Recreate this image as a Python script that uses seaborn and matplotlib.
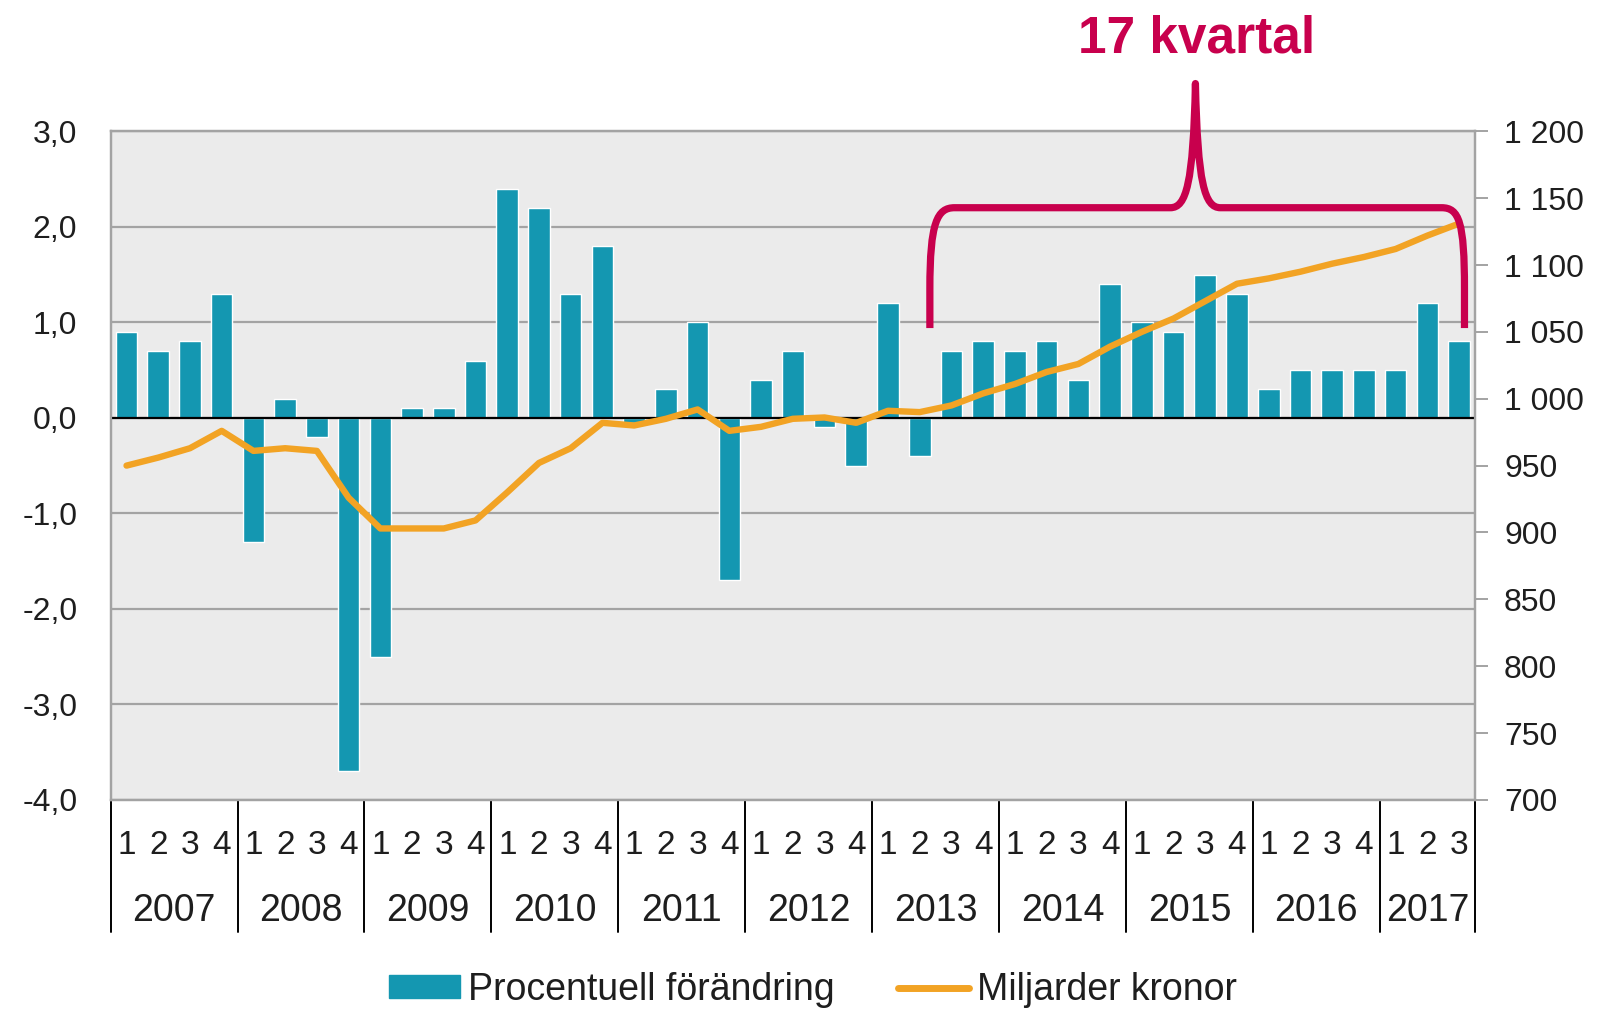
import pandas as pd
import matplotlib.pyplot as plt
import matplotlib.transforms as mtransforms
from matplotlib.path import Path
from matplotlib.patches import PathPatch, Patch
from matplotlib.lines import Line2D
import seaborn as sns

# --- data ---
years = [2007, 2008, 2009, 2010, 2011, 2012, 2013, 2014, 2015, 2016, 2017]
quarters = [1, 2, 3, 4] * 10 + [1, 2, 3]

# percentage change per quarter (left axis)
pct_change = [0.9, 0.7, 0.8, 1.3,
              -1.3, 0.2, -0.2, -3.7,
              -2.5, 0.1, 0.1, 0.6,
              2.4, 2.2, 1.3, 1.8,
              -0.05, 0.3, 1.0, -1.7,
              0.4, 0.7, -0.1, -0.5,
              1.2, -0.4, 0.7, 0.8,
              0.7, 0.8, 0.4, 1.4,
              1.0, 0.9, 1.5, 1.3,
              0.3, 0.5, 0.5, 0.5,
              0.5, 1.2, 0.8]

# billions of kronor (right axis)
billions_sek = [950, 956, 963, 976,
                961, 963, 961, 926,
                903, 903, 903, 909,
                930, 952, 963, 982,
                980, 985, 992, 976,
                979, 985, 986, 982,
                991, 990, 995, 1004,
                1011, 1020, 1026, 1039,
                1050, 1060, 1073, 1086,
                1090, 1095, 1101, 1106,
                1112, 1122, 1131]

left_ticks = [-4, -3, -2, -1, 0, 1, 2, 3]
right_ticks = list(range(700, 1201, 50))

df = pd.DataFrame({'idx': range(len(quarters)), 'kvartal': quarters,
                   'pct': pct_change, 'mdkr': billions_sek})

teal = '#1497B1'
orange = '#F2A324'
magenta = '#C8004D'
txt = '#1E1E1E'

sns.set_style('white')
plt.rcParams['font.family'] = ['Liberation Sans', 'DejaVu Sans']

fig = plt.figure(figsize=(16.06, 10.10), dpi=100)
ax = fig.add_axes([0.0689, 0.208, 0.8495, 0.662])
ax.set_facecolor('#EBEBEB')

sns.barplot(data=df, x='idx', y='pct', color=teal, saturation=1, width=0.68, ax=ax, zorder=2)
ax.axhline(0, color='black', lw=1.6, zorder=3)
ax.set_ylim(-4, 3)
ax.set_yticks(left_ticks)
ax.set_yticklabels([f'{t:.1f}'.replace('.', ',') for t in left_ticks], fontsize=23, color=txt)
ax.yaxis.grid(True, color='#A3A3A3', lw=1.6)
ax.set_axisbelow(True)
ax.tick_params(axis='y', length=0, pad=24)
ax.set_xlabel('')
ax.set_ylabel('')

# quarter numbers as tick labels
ax.set_xticks(range(len(quarters)))
ax.set_xticklabels([str(q) for q in quarters], fontsize=24, color=txt)
ax.tick_params(axis='x', length=0, pad=22)

for s in ['left', 'right', 'top', 'bottom']:
    ax.spines[s].set_color('#A3A3A3')
    ax.spines[s].set_linewidth(1.6)

# year labels and separators under the axis
trans = mtransforms.blended_transform_factory(ax.transData, ax.transAxes)
start = 0
for y in years:
    n = 3 if y == 2017 else 4
    ax.text(start + (n - 1) / 2, -0.166, str(y), transform=trans, ha='center', va='center',
            fontsize=27, color=txt)
    start += n
bounds = [-0.5] + [3.5 + 4 * i for i in range(10)] + [42.5]
for b in bounds:
    ax.plot([b, b], [0, -0.197], transform=trans, color='black', lw=1.4, clip_on=False)

# line on the right axis
ax2 = ax.twinx()
sns.lineplot(data=df, x='idx', y='mdkr', color=orange, lw=4.6, ax=ax2, zorder=4)
ax2.set_ylim(700, 1200)
ax2.set_yticks(right_ticks)
ax2.set_yticklabels([f'{t:,}'.replace(',', ' ') for t in right_ticks], fontsize=23, color=txt)
ax2.tick_params(axis='y', length=9, width=1.4, color='#A3A3A3', pad=12)
ax2.set_ylabel('')
for s in ['left', 'right', 'top', 'bottom']:
    ax2.spines[s].set_color('#A3A3A3')
    ax2.spines[s].set_linewidth(1.6)

# curly brace marking 17 quarters
verts = [(25.32, 0.94), (25.32, 1.35),
         (25.32, 2.05), (25.55, 2.2), (26.1, 2.2),
         (32.9, 2.2),
         (33.4, 2.2), (33.62, 2.45), (33.69, 3.5),
         (33.76, 2.45), (33.98, 2.2), (34.48, 2.2),
         (41.45, 2.2),
         (42.0, 2.2), (42.17, 2.05), (42.17, 1.35),
         (42.17, 0.94)]
codes = [Path.MOVETO, Path.LINETO,
         Path.CURVE4, Path.CURVE4, Path.CURVE4,
         Path.LINETO,
         Path.CURVE4, Path.CURVE4, Path.CURVE4,
         Path.CURVE4, Path.CURVE4, Path.CURVE4,
         Path.LINETO,
         Path.CURVE4, Path.CURVE4, Path.CURVE4,
         Path.LINETO]
brace = PathPatch(Path(verts, codes), transform=ax.transData, facecolor='none',
                  edgecolor=magenta, lw=5.2, capstyle='butt', joinstyle='round',
                  clip_on=False, zorder=6)
ax2.add_patch(brace)
ax.set_xlim(-0.5, 42.5)
ax2.set_ylim(700, 1200)

fig.text(0.745, 0.9615, '17 kvartal', ha='center', va='center', fontsize=37,
         fontweight='bold', color=magenta)

handles = [Patch(color=teal), Line2D([0], [0], color=orange, lw=5)]
fig.legend(handles, ['Procentuell förändring', 'Miljarder kronor'], loc='center',
           bbox_to_anchor=(0.506, 0.02), ncol=2, frameon=False, prop={'size': 27},
           labelcolor=txt, handlelength=1.9, handleheight=0.55, handletextpad=0.2,
           columnspacing=1.7)

fig.savefig('out.png', dpi=100)
